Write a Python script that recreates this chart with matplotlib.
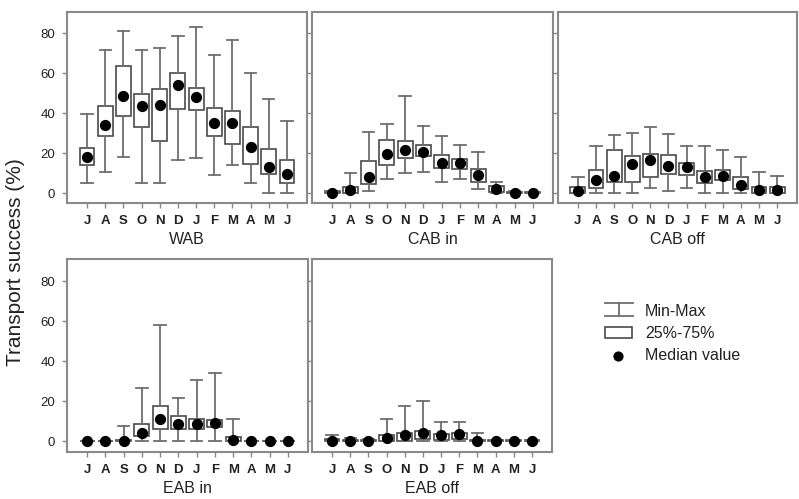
import matplotlib
matplotlib.use("Agg")
import matplotlib.pyplot as plt
from matplotlib.patches import Rectangle

plt.rcParams['font.family'] = ['Liberation Sans', 'DejaVu Sans']

months = ["J", "A", "S", "O", "N", "D", "J", "F", "M", "A", "M", "J"]
panel_names = ["WAB", "CAB in", "CAB off", "EAB in", "EAB off"]

# each: min, q1, median, q3, max per month
wab_min = [5, 10.3, 17.9, 5, 5, 16.7, 17.7, 9.1, 14, 5, 0, 0]
wab_q1 = [14, 28.6, 38.6, 33.1, 26.2, 42.2, 41.7, 28.6, 24.5, 14.6, 9.3, 5]
wab_med = [17.9, 34, 48.5, 43.4, 43.9, 53.8, 48.2, 34.8, 34.8, 23, 12.9, 9.3]
wab_q3 = [22.4, 43.4, 63.4, 49.3, 51.8, 59.9, 52.3, 42.7, 40.9, 32.8, 21.9, 16.7]
wab_max = [39.7, 71.7, 80.8, 71.7, 72.7, 78.6, 82.9, 69, 76.7, 59.8, 46.9, 36.1]

cabin_min = [0, 0, 0.8, 6.9, 9.8, 10.7, 5.7, 6.9, 2, 0, 0, 0]
cabin_q1 = [0, 0, 4.4, 13.9, 17.7, 18.4, 12.6, 11.8, 5.7, 0.3, 0, 0]
cabin_med = [0, 1.3, 8.2, 19.7, 21.3, 20.5, 15.2, 15.1, 9, 2.1, 0, 0]
cabin_q3 = [0.8, 2.8, 16, 26.6, 26.2, 23.8, 18.9, 16.9, 11.8, 3.3, 0.6, 0.5]
cabin_max = [1, 9.8, 30.3, 34.4, 48.7, 33.4, 28.7, 23.8, 20.5, 5.7, 0.8, 0.6]

caboff_min = [0, 0, 0, 0, 2.6, 1, 2.6, 0, 0, 0, 0, 0]
caboff_q1 = [0, 2.6, 5.4, 5.4, 7.9, 9.5, 9.2, 5.1, 6.3, 1.8, 0, 0]
caboff_med = [1, 6.3, 8.7, 14.5, 16.4, 13.6, 13.1, 8.2, 8.7, 4.1, 1.6, 1.6]
caboff_q3 = [3, 11.7, 21.6, 18.6, 19.4, 19, 14.8, 10.9, 11.7, 7.9, 3, 3]
caboff_max = [7.9, 23.5, 28.9, 29.8, 32.9, 29.3, 23.5, 23.5, 21.6, 17.8, 10.3, 8.7]

eabin_min = [0, 0, 0, 0, 0, 0, 0, 0, 0, 0, 0, 0]
eabin_q1 = [0, 0, 0, 2.3, 6.1, 6.1, 6.1, 7, 0, 0, 0, 0]
eabin_med = [0, 0, 0, 4.1, 11.1, 8.6, 8.6, 9, 0.7, 0, 0, 0]
eabin_q3 = [0, 0, 0.3, 8.3, 17.4, 12.3, 10.8, 10.6, 2, 0, 0, 0]
eabin_max = [0, 0, 7.3, 26.4, 58, 21.6, 30.5, 33.8, 11.1, 0, 0, 0]

eaboff_min = [0, 0, 0, 0, 0, 0, 0, 0, 0, 0, 0, 0]
eaboff_q1 = [0, 0, 0, 0, 0, 0.8, 0.3, 0.8, 0, 0, 0, 0]
eaboff_med = [0, 0, 0, 1.3, 3, 3.8, 3, 3.3, 0, 0, 0, 0]
eaboff_q3 = [0.8, 0.5, 0.5, 2.8, 4.2, 5, 3.7, 4.2, 0.5, 0.3, 0.3, 0.3]
eaboff_max = [2.8, 1.7, 1.2, 11.1, 17.5, 20, 9.7, 9.7, 3.8, 0.3, 0.3, 0.3]

panels = [
    (wab_min, wab_q1, wab_med, wab_q3, wab_max),
    (cabin_min, cabin_q1, cabin_med, cabin_q3, cabin_max),
    (caboff_min, caboff_q1, caboff_med, caboff_q3, caboff_max),
    (eabin_min, eabin_q1, eabin_med, eabin_q3, eabin_max),
    (eaboff_min, eaboff_q1, eaboff_med, eaboff_q3, eaboff_max),
]

W, H = 799, 499
fig = plt.figure(figsize=(W / 100, H / 100), dpi=100)

frame_col = "#8a8a8a"
line_col = "#6e6e6e"
box_col = "#4a4a4a"
text_col = "#222222"

# pixel boxes: left, top, right, bottom
rects = [
    (67, 12, 307, 203),
    (312, 12, 553, 203),
    (558, 12, 797, 203),
    (67, 259, 308, 452),
    (312, 259, 552, 452),
]

positions = list(range(1, 13))
for i, ((l, t, r, b), data) in enumerate(zip(rects, panels)):
    ax = fig.add_axes([l / W, 1 - b / H, (r - l) / W, (b - t) / H])
    mn, q1, md, q3, mx = data
    stats = []
    for k in range(12):
        stats.append(dict(whislo=mn[k], q1=q1[k], med=md[k], q3=q3[k], whishi=mx[k], fliers=[]))
    ax.bxp(stats, positions=positions, widths=0.82, capwidths=0.62, showfliers=False,
           patch_artist=True,
           boxprops=dict(facecolor="white", edgecolor=box_col, linewidth=1.2),
           whiskerprops=dict(color=line_col, linewidth=1.3),
           capprops=dict(color=line_col, linewidth=1.3),
           medianprops=dict(linewidth=0))
    ax.scatter(positions, md, s=50, color="black", zorder=5)
    ax.set_xlim(-0.1, 13.1)
    if i < 3:
        ax.set_ylim(-5, 90.5)
    else:
        ax.set_ylim(-5.5, 91)
    ax.set_yticks([0, 20, 40, 60, 80])
    ax.set_xticks(positions)
    ax.set_xticklabels(months, fontsize=9.5, color=text_col, fontweight="bold")
    if i in (0, 3):
        ax.set_yticklabels(["0", "20", "40", "60", "80"], fontsize=9.5, color=text_col)
    else:
        ax.set_yticklabels([])
    ax.tick_params(direction="out", length=3.5, width=1, color=frame_col, pad=5)
    for s in ax.spines.values():
        s.set_color(frame_col)
        s.set_linewidth(1.5)
    ax.set_xlabel(panel_names[i], fontsize=11.5, color=text_col, labelpad=4)

fig.text(16 / W, 1 - 262 / H, "Transport success (%)", rotation=90, fontsize=15,
         ha="center", va="center", color=text_col)

# legend in pixel coordinates
lg = fig.add_axes([0, 0, 1, 1])
lg.set_xlim(0, W)
lg.set_ylim(H, 0)
lg.axis("off")
lg.plot([605, 633], [303, 303], color=line_col, lw=1.3)
lg.plot([605, 633], [316, 316], color=line_col, lw=1.3)
lg.plot([619, 619], [303, 316], color=line_col, lw=1.3)
lg.add_patch(Rectangle((605, 327), 27, 11, facecolor="white", edgecolor=box_col, lw=1.2))
lg.scatter([618], [356], s=40, color="black")
for y, txt in [(311, "Min-Max"), (333, "25%-75%"), (356, "Median value")]:
    lg.text(645, y, txt, fontsize=11.5, va="center", ha="left", color=text_col)

fig.savefig("out.png", dpi=100)
